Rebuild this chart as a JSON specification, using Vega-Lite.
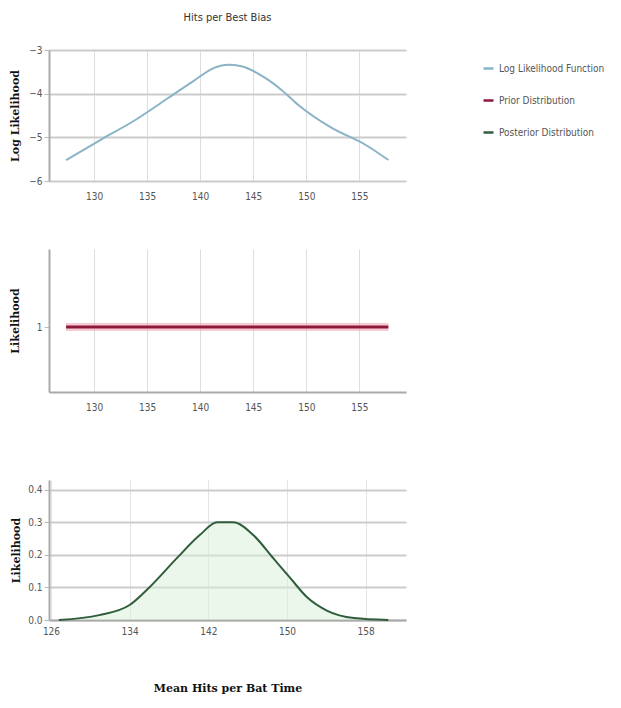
{
  "$schema": "https://vega.github.io/schema/vega-lite/v6.json",
  "background": "white",
  "padding": {"left": 9, "top": 12, "right": 5, "bottom": 5},
  "config": {
    "view": {"stroke": null},
    "font": "DejaVu Sans Condensed",
    "axis": {"labelColor": "#555", "labelFontSize": 10, "labelFont": "DejaVu Sans Condensed", "domainColor": "#aaa", "domainWidth": 2, "gridColor": "#ddd", "tickColor": "#bbb", "titleColor": "#111", "titleFontWeight": "bold", "titleFontSize": 11, "titleFont": "DejaVu Serif"},
    "legend": {"labelColor": "#555", "labelFontSize": 10, "labelFont": "DejaVu Sans Condensed"},
    "title": {"fontSize": 11, "color": "#333", "fontWeight": "normal", "font": "DejaVu Sans Condensed"},
    "concat": {"spacing": 48}
  },
  "datasets": {
    "loglik": [
      {"x": 127.36, "y": -5.52, "series": "Log Likelihood Function"},
      {"x": 130.66, "y": -5.05, "series": "Log Likelihood Function"},
      {"x": 133.77, "y": -4.62, "series": "Log Likelihood Function"},
      {"x": 136.98, "y": -4.10, "series": "Log Likelihood Function"},
      {"x": 139.43, "y": -3.70, "series": "Log Likelihood Function"},
      {"x": 141.32, "y": -3.41, "series": "Log Likelihood Function"},
      {"x": 142.64, "y": -3.34, "series": "Log Likelihood Function"},
      {"x": 143.87, "y": -3.37, "series": "Log Likelihood Function"},
      {"x": 146.13, "y": -3.64, "series": "Log Likelihood Function"},
      {"x": 147.64, "y": -3.91, "series": "Log Likelihood Function"},
      {"x": 149.25, "y": -4.26, "series": "Log Likelihood Function"},
      {"x": 152.36, "y": -4.78, "series": "Log Likelihood Function"},
      {"x": 155.57, "y": -5.17, "series": "Log Likelihood Function"},
      {"x": 157.74, "y": -5.52, "series": "Log Likelihood Function"}
    ],
    "prior": [
      {"x": 127.36, "y": 1, "series": "Prior Distribution"},
      {"x": 157.74, "y": 1, "series": "Prior Distribution"}
    ],
    "posterior": [
      {"x": 126.8, "y": 0.0, "series": "Posterior Distribution"},
      {"x": 130.9, "y": 0.015, "series": "Posterior Distribution"},
      {"x": 134.0, "y": 0.046, "series": "Posterior Distribution"},
      {"x": 136.0, "y": 0.1, "series": "Posterior Distribution"},
      {"x": 138.8, "y": 0.19, "series": "Posterior Distribution"},
      {"x": 141.1, "y": 0.26, "series": "Posterior Distribution"},
      {"x": 142.9, "y": 0.3, "series": "Posterior Distribution"},
      {"x": 144.5, "y": 0.3, "series": "Posterior Distribution"},
      {"x": 146.6, "y": 0.26, "series": "Posterior Distribution"},
      {"x": 148.6, "y": 0.19, "series": "Posterior Distribution"},
      {"x": 150.3, "y": 0.13, "series": "Posterior Distribution"},
      {"x": 152.1, "y": 0.068, "series": "Posterior Distribution"},
      {"x": 154.1, "y": 0.028, "series": "Posterior Distribution"},
      {"x": 156.8, "y": 0.006, "series": "Posterior Distribution"},
      {"x": 160.3, "y": 0.0, "series": "Posterior Distribution"}
    ]
  },
  "spacing": 68,
  "vconcat": [
    {
      "spacing": 48,
      "vconcat": [
        {
          "title": {"text": "Hits per Best Bias", "anchor": "middle", "offset": 22},
          "width": 357,
          "height": 131,
          "data": {"name": "loglik"},
          "mark": {"type": "line", "interpolate": "monotone", "strokeWidth": 2},
          "encoding": {
            "x": {"field": "x", "type": "quantitative", "scale": {"domain": [125.75, 159.4], "nice": false}, "axis": {"values": [130, 135, 140, 145, 150, 155], "title": null, "domain": false, "ticks": false, "labelPadding": 10}},
            "y": {"field": "y", "type": "quantitative", "scale": {"domain": [-6, -3], "nice": false}, "axis": {"values": [-3, -4, -5, -6], "title": "Log Likelihood", "gridColor": "#ccc", "gridWidth": 2, "titlePadding": 8}},
            "color": {"field": "series", "type": "nominal", "scale": {"domain": ["Log Likelihood Function", "Prior Distribution", "Posterior Distribution"], "range": ["#8ab4c6", "#8b1a3a", "#2f5e3c"]}, "legend": {"title": null, "symbolType": "stroke", "symbolStrokeWidth": 2.5, "rowPadding": 20, "offset": 64, "padding": 12}}
          }
        },
        {
          "width": 357,
          "height": 143,
          "data": {"name": "prior"},
          "encoding": {
            "x": {"field": "x", "type": "quantitative", "scale": {"domain": [125.75, 159.4], "nice": false}, "axis": {"values": [130, 135, 140, 145, 150, 155], "title": null, "labelPadding": 10, "ticks": false}},
            "y": {"field": "y", "type": "quantitative", "scale": {"domain": [0, 2.2], "nice": false}, "axis": {"values": [1], "format": ".0f", "title": "Likelihood", "grid": false, "titlePadding": 16}}
          },
          "layer": [
            {"mark": {"type": "line", "strokeWidth": 8, "color": "#f2a6b8", "opacity": 0.6}},
            {"mark": {"type": "line", "strokeWidth": 3}, "encoding": {"color": {"field": "series", "type": "nominal"}}}
          ]
        }
      ]
    },
    {
      "width": 357,
      "height": 140,
      "data": {"name": "posterior"},
      "encoding": {
        "x": {"field": "x", "type": "quantitative", "scale": {"domain": [125.8, 162.1], "nice": false}, "axis": {"values": [126, 134, 142, 150, 158], "title": "Mean Hits per Bat Time", "titlePadding": 46, "ticks": false, "labelPadding": 6, "gridColor": "#e4e4e4"}},
        "y": {"field": "y", "type": "quantitative", "scale": {"domain": [0, 0.43], "nice": false}, "axis": {"values": [0, 0.1, 0.2, 0.3, 0.4], "format": ".1f", "title": "Likelihood", "gridColor": "#ccc", "gridWidth": 2, "titlePadding": 6, "labelOverlap": false}}
      },
      "layer": [
        {"mark": {"type": "area", "interpolate": "monotone", "color": "#d8f0d8", "opacity": 0.5}},
        {"mark": {"type": "line", "interpolate": "monotone", "strokeWidth": 2}, "encoding": {"color": {"field": "series", "type": "nominal"}}}
      ]
    }
  ],
  "resolve": {"scale": {"x": "independent", "y": "independent"}}
}
